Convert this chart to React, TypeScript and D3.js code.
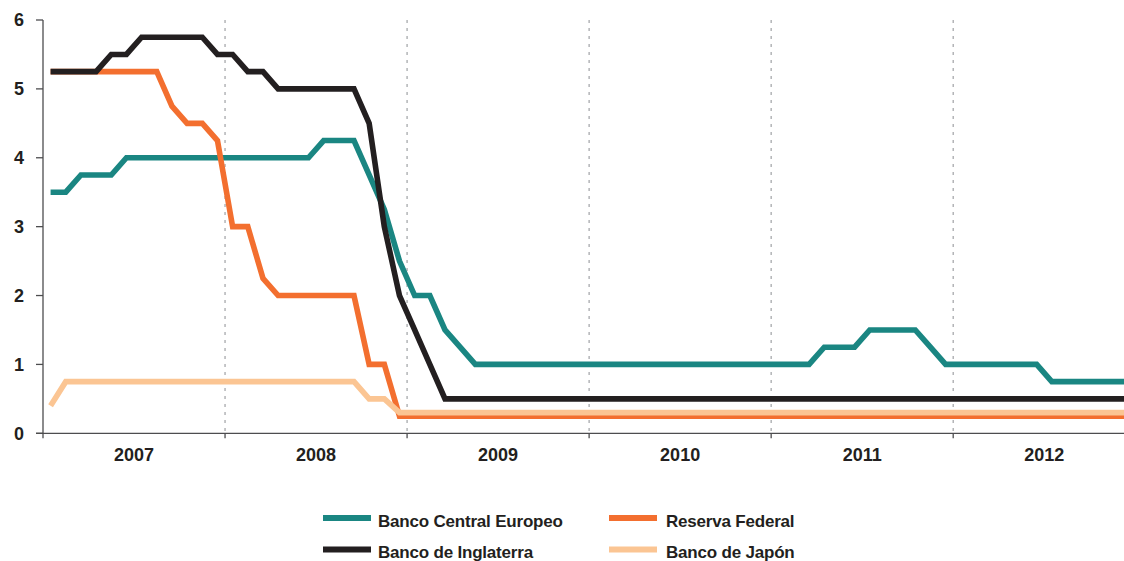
import React from "react";
import * as d3 from "d3";

const years = ["2007", "2008", "2009", "2010", "2011", "2012"];
const yTicks = [0, 1, 2, 3, 4, 5, 6];

// Monthly values, Jan 2007 – Dec 2012
const ecb = [
  3.5, 3.5, 3.75, 3.75, 3.75, 4, 4, 4, 4, 4, 4, 4,
  4, 4, 4, 4, 4, 4, 4.25, 4.25, 4.25, 3.75, 3.25, 2.5,
  2, 2, 1.5, 1.25, 1, 1, 1, 1, 1, 1, 1, 1,
  1, 1, 1, 1, 1, 1, 1, 1, 1, 1, 1, 1,
  1, 1, 1, 1.25, 1.25, 1.25, 1.5, 1.5, 1.5, 1.5, 1.25, 1,
  1, 1, 1, 1, 1, 1, 0.75, 0.75, 0.75, 0.75, 0.75, 0.75,
];
const fed = [
  5.25, 5.25, 5.25, 5.25, 5.25, 5.25, 5.25, 5.25, 4.75, 4.5, 4.5, 4.25,
  3, 3, 2.25, 2, 2, 2, 2, 2, 2, 1, 1, 0.25,
  0.25, 0.25, 0.25, 0.25, 0.25, 0.25, 0.25, 0.25, 0.25, 0.25, 0.25, 0.25,
  0.25, 0.25, 0.25, 0.25, 0.25, 0.25, 0.25, 0.25, 0.25, 0.25, 0.25, 0.25,
  0.25, 0.25, 0.25, 0.25, 0.25, 0.25, 0.25, 0.25, 0.25, 0.25, 0.25, 0.25,
  0.25, 0.25, 0.25, 0.25, 0.25, 0.25, 0.25, 0.25, 0.25, 0.25, 0.25, 0.25,
];
const boe = [
  5.25, 5.25, 5.25, 5.25, 5.5, 5.5, 5.75, 5.75, 5.75, 5.75, 5.75, 5.5,
  5.5, 5.25, 5.25, 5, 5, 5, 5, 5, 5, 4.5, 3, 2,
  1.5, 1, 0.5, 0.5, 0.5, 0.5, 0.5, 0.5, 0.5, 0.5, 0.5, 0.5,
  0.5, 0.5, 0.5, 0.5, 0.5, 0.5, 0.5, 0.5, 0.5, 0.5, 0.5, 0.5,
  0.5, 0.5, 0.5, 0.5, 0.5, 0.5, 0.5, 0.5, 0.5, 0.5, 0.5, 0.5,
  0.5, 0.5, 0.5, 0.5, 0.5, 0.5, 0.5, 0.5, 0.5, 0.5, 0.5, 0.5,
];
const boj = [
  0.4, 0.75, 0.75, 0.75, 0.75, 0.75, 0.75, 0.75, 0.75, 0.75, 0.75, 0.75,
  0.75, 0.75, 0.75, 0.75, 0.75, 0.75, 0.75, 0.75, 0.75, 0.5, 0.5, 0.3,
  0.3, 0.3, 0.3, 0.3, 0.3, 0.3, 0.3, 0.3, 0.3, 0.3, 0.3, 0.3,
  0.3, 0.3, 0.3, 0.3, 0.3, 0.3, 0.3, 0.3, 0.3, 0.3, 0.3, 0.3,
  0.3, 0.3, 0.3, 0.3, 0.3, 0.3, 0.3, 0.3, 0.3, 0.3, 0.3, 0.3,
  0.3, 0.3, 0.3, 0.3, 0.3, 0.3, 0.3, 0.3, 0.3, 0.3, 0.3, 0.3,
];

const seriesNames = ["Banco Central Europeo", "Reserva Federal", "Banco de Inglaterra", "Banco de Japón"];
const seriesColors = ["#1a8682", "#f36f2f", "#231f20", "#fbc593"];
const seriesData = [ecb, fed, boe, boj];
// draw order: teal, orange, black, peach
const drawOrder = [0, 1, 2, 3];

const W = 1124;
const H = 561;
const x0 = 43;
const monthW = 15.17;
const FONT = "'Liberation Sans', Arial, Helvetica, sans-serif";
const TEXT = "#231f20";

export default function App() {
  const nMonths = years.length * 12;
  const x = d3.scaleLinear().domain([0, nMonths]).range([x0, x0 + nMonths * monthW]);
  const y = d3.scaleLinear().domain([0, 6]).range([433.3, 20]);
  const line = d3
    .line<number>()
    .x((_, i) => x(i + 0.5))
    .y((d) => y(d));

  const legendPos = [
    { sx: 323, tx: 378, cy: 518 },
    { sx: 609, tx: 666, cy: 518 },
    { sx: 323, tx: 378, cy: 549.5 },
    { sx: 609, tx: 666, cy: 549.5 },
  ];

  return (
    <>
      <style>{`body{margin:0}`}</style>
      <svg width={W} height={H} style={{ display: "block", background: "#fff" }} fontFamily={FONT}>
        <defs>
          <clipPath id="plot">
            <rect x={x0} y={0} width={W - x0} height={440} />
          </clipPath>
        </defs>
        {/* dotted year separators */}
        {years.slice(1).map((_, k) => (
          <line
            key={"g" + k}
            x1={x((k + 1) * 12)}
            x2={x((k + 1) * 12)}
            y1={y(6)}
            y2={y(0)}
            stroke="#a7a9ac"
            strokeWidth={1.3}
            strokeDasharray="3,5"
          />
        ))}
        {/* axes */}
        <line x1={x0} x2={x0} y1={y(6)} y2={y(0)} stroke="#4d4d4f" strokeWidth={1.3} />
        <line x1={36} x2={W} y1={y(0)} y2={y(0)} stroke="#4d4d4f" strokeWidth={1.3} />
        {yTicks.map((t) => (
          <g key={"y" + t}>
            <line x1={36} x2={x0} y1={y(t)} y2={y(t)} stroke="#4d4d4f" strokeWidth={1.3} />
            <text
              x={24}
              y={y(t)}
              dy="0.36em"
              textAnchor="end"
              fontSize={18}
              fontWeight="bold"
              fill={TEXT}
            >
              {t}
            </text>
          </g>
        ))}
        {years.map((yr, k) => (
          <g key={yr}>
            <line x1={x(k * 12)} x2={x(k * 12)} y1={y(0)} y2={y(0) + 5} stroke="#4d4d4f" strokeWidth={1.3} />
            <text
              x={x(k * 12 + 6)}
              y={461}
              textAnchor="middle"
              fontSize={18}
              fontWeight="bold"
              fill={TEXT}
            >
              {yr}
            </text>
          </g>
        ))}
        {/* series */}
        <g clipPath="url(#plot)">
          {drawOrder.map((s) => (
            <path
              key={"s" + s}
              d={line(seriesData[s]) || ""}
              fill="none"
              stroke={seriesColors[s]}
              strokeWidth={5.6}
              strokeLinejoin="miter"
            />
          ))}
        </g>
        {/* legend */}
        {seriesNames.map((name, i) => (
          <g key={name}>
            <line
              x1={legendPos[i].sx}
              x2={legendPos[i].sx + 48}
              y1={legendPos[i].cy}
              y2={legendPos[i].cy}
              stroke={seriesColors[i]}
              strokeWidth={6}
            />
            <text
              x={legendPos[i].tx}
              y={legendPos[i].cy + 8.5}
              fontSize={17}
              fontWeight="bold"
              letterSpacing={-0.2}
              fill={TEXT}
            >
              {name}
            </text>
          </g>
        ))}
      </svg>
    </>
  );
}
